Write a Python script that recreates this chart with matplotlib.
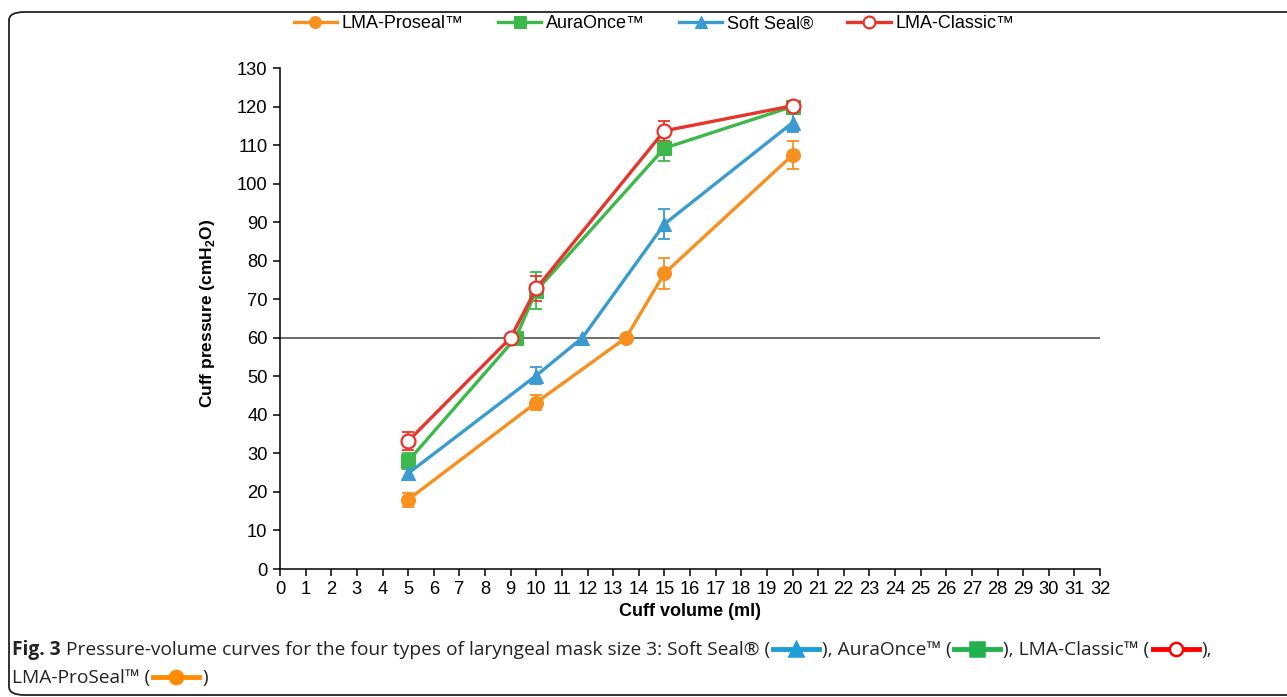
import matplotlib
matplotlib.use("Agg")
import matplotlib.pyplot as plt
from matplotlib.lines import Line2D
from matplotlib.patches import FancyBboxPatch
import numpy as np

plt.rcParams['font.family'] = ['Liberation Sans', 'DejaVu Sans']
plt.rcParams['mathtext.fontset'] = 'custom'
plt.rcParams['mathtext.rm'] = 'Liberation Sans:bold'
plt.rcParams['mathtext.bf'] = 'Liberation Sans:bold'

# data
names = ['LMA-Proseal™', 'AuraOnce™', 'Soft Seal®', 'LMA-Classic™']
colors = ['#F7901E', '#3CB94A', '#3A9BD0', '#E8352B']
markers = ['o', 's', '^', 'o']

vol_proseal = [5, 10, 13.5, 15, 20]
p_proseal = [18, 43.2, 60, 76.7, 107.4]
sd_proseal = [1.8, 2.0, 0, 4.0, 3.6]

vol_aura = [5, 9.2, 10, 15, 20]
p_aura = [28, 60, 72.2, 109.2, 120]
sd_aura = [2.0, 0, 4.8, 3.3, 1.0]

vol_soft = [5, 10, 11.8, 15, 20]
p_soft = [24.8, 50.2, 60, 89.5, 115.8]
sd_soft = [1.5, 2.3, 0, 3.9, 2.3]

vol_classic = [5, 9, 10, 15, 20]
p_classic = [33.2, 60, 72.8, 113.7, 120.2]
sd_classic = [2.4, 0, 3.2, 2.6, 1.0]

series = [(vol_proseal, p_proseal, sd_proseal),
          (vol_aura, p_aura, sd_aura),
          (vol_soft, p_soft, sd_soft),
          (vol_classic, p_classic, sd_classic)]

W, H = 1287, 697
fig = plt.figure(figsize=(W / 100, H / 100), dpi=100)
ax = fig.add_axes([280 / W, 1 - 569 / H, 820 / W, 501 / H])

handles = []
for (x, y, e), name, c, m in zip(series, names, colors, markers):
    x = np.array(x); y = np.array(y); e = np.array(e)
    mfc = 'white' if name == 'LMA-Classic™' else c
    ms = 10 if m != 's' else 9.5
    mew = 1.6 if name == 'LMA-Classic™' else 0.8
    ax.plot(x, y, color=c, lw=2.4, marker=m, ms=ms, mfc=mfc, mec=c, mew=mew, zorder=3)
    k = e > 0
    ax.errorbar(x[k], y[k], yerr=e[k], fmt='none', ecolor=c, elinewidth=1.3,
                capsize=4.5, capthick=1.3, zorder=2)
    handles.append(Line2D([], [], color=c, lw=2.4, marker=m, ms=8.5, mfc=mfc, mec=c, mew=mew))

ax.axhline(60, color='#444444', lw=1.1, zorder=1)

ax.set_xlim(0, 32)
ax.set_ylim(0, 130)
ax.set_xticks(range(0, 33))
ax.set_yticks(range(0, 131, 10))
for s in ['top', 'right']:
    ax.spines[s].set_visible(False)
for s in ['left', 'bottom']:
    ax.spines[s].set_linewidth(1.1)
ax.tick_params(direction='out', length=5, width=1.1, labelsize=13.2, pad=4)
ax.set_xlabel('Cuff volume (ml)', fontsize=13, fontweight='bold', labelpad=3)
ax.set_ylabel(r'Cuff pressure (cmH$_\mathbf{2}$O)', fontsize=12.5, fontweight='bold', labelpad=14)
ax.yaxis.set_label_coords(-0.077, 0.51)

fig.legend(handles, names, loc='center', bbox_to_anchor=(654 / W, 1 - 24 / H), ncol=4,
           frameon=False, fontsize=13, handlelength=2.4, columnspacing=1.9, handletextpad=0.25)

# outer frame
frame = FancyBboxPatch((9 / W, 2 / H), 1400 / W, 683 / H, boxstyle='round,pad=0,rounding_size=0.012',
                       transform=fig.transFigure, fill=False, ec='#222222', lw=1.3, clip_on=False)
fig.patches.append(frame)

# caption with inline symbols
renderer = fig.canvas.get_renderer()
cap_font = ['Open Sans', 'DejaVu Sans']
cap_size = 13.8


def caption_line(parts, x0, y0):
    x = x0
    for p in parts:
        if isinstance(p, str) or (isinstance(p, tuple) and p[0] == 'b'):
            bold = isinstance(p, tuple)
            s = p[1] if bold else p
            t = fig.text(x / W, y0 / H, s, fontsize=cap_size, family=cap_font,
                         fontweight='bold' if bold else 'normal', color='#222222', va='center', ha='left')
            bb = t.get_window_extent(renderer)
            x += bb.width
        else:
            c, m, mfc = p
            ln = Line2D([x + 3, x + 49], [y0 + 1, y0 + 1], color=c, lw=3.5, marker=None,
                        transform=None)
            fig.add_artist(ln)
            mk = Line2D([x + 26], [y0 + 1], color=c, marker=m, ms=9.5, mfc=mfc, mec=c, mew=1.8,
                        transform=None, ls='none')
            fig.add_artist(mk)
            x += 52


caption_line([('b', 'Fig. 3'), ' Pressure-volume curves for the four types of laryngeal mask size 3: Soft Seal® (',
              ('#1E9ED9', '^', '#1E9ED9'), '), AuraOnce™ (', ('#22B14C', 's', '#22B14C'),
              '), LMA-Classic™ (', ('#FF0000', 'o', 'white'), '),'], 12, H - 650)
caption_line(['LMA-ProSeal™ (', ('#FF8C00', 'o', '#FF8C00'), ')'], 12, H - 678)

fig.savefig('out.png', dpi=100)
